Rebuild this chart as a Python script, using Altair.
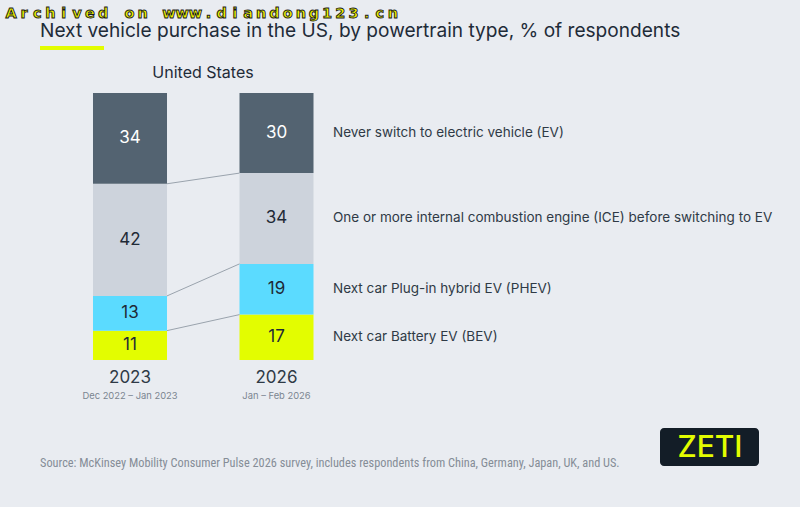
import altair as alt
import pandas as pd

# --- data -------------------------------------------------------------
years = ["2023", "2026"]
periods = ["Dec 2022 – Jan 2023", "Jan – Feb 2026"]
segments = [
    "Next car Battery EV (BEV)",
    "Next car Plug-in hybrid EV (PHEV)",
    "One or more internal combustion engine (ICE) before switching to EV",
    "Never switch to electric vehicle (EV)",
]
share_2023 = [11, 13, 42, 34]
share_2026 = [17, 19, 34, 30]
seg_colors = ["#e3fd00", "#5bdbff", "#cdd3dc", "#536371"]

title_text = "Next vehicle purchase in the US, by powertrain type, % of respondents"
subtitle_text = "United States"
source_text = ("Source: McKinsey Mobility Consumer Pulse 2026 survey, includes respondents "
               "from China, Germany, Japan, UK, and US.")
watermark = "Archived on www.diandong123.cn"

BG = "#e9ecf1"
FONT = "Inter"
HALF = 0.2526  # half bar width in x units

rows = []
for i, (yr, vals) in enumerate(zip(years, [share_2023, share_2026])):
    for j, (seg, v) in enumerate(zip(segments, vals)):
        rows.append({"year": yr, "pos": i, "segment": seg, "order": j, "pct": v})
df = pd.DataFrame(rows)

# boundaries between stacked segments, joined across the two bars
bounds = []
c23, c26 = 0, 0
for j in range(len(segments) - 1):
    c23 += share_2023[j]
    c26 += share_2026[j]
    bounds.append({"a": c23, "b": c26})
df_bounds = pd.DataFrame(bounds)

xs = alt.Scale(domain=[0, 1], range=[130, 276.5])
ys = alt.Scale(domain=[0, 100], range=[360, 93])
cs = alt.Scale(domain=segments, range=seg_colors)

base = alt.Chart(df).transform_stack(
    stack="pct", groupby=["year"], as_=["y0", "y1"], sort=[alt.SortField("order")]
).transform_calculate(
    xl=f"datum.pos - {HALF}", xr=f"datum.pos + {HALF}", ym="(datum.y0 + datum.y1) / 2"
)

bars = base.mark_bar(stroke=None).encode(
    x=alt.X("xl:Q", scale=xs, axis=None),
    x2="xr:Q",
    y=alt.Y("y0:Q", scale=ys, axis=None),
    y2="y1:Q",
    color=alt.Color("segment:N", scale=cs, legend=None),
)

values = base.mark_text(font=FONT, fontSize=17, baseline="middle").encode(
    x=alt.X("pos:Q", scale=xs, axis=None),
    y=alt.Y("ym:Q", scale=ys, axis=None),
    text="pct:Q",
    color=alt.condition(
        alt.datum.order == 3, alt.value("#ffffff"), alt.value("#1f2a36")
    ),
)

seg_labels = base.transform_filter(alt.datum.pos == 1).mark_text(
    font=FONT, fontSize=13.5, align="left", baseline="middle", color="#2f3a46"
).encode(
    x=alt.value(333),
    y=alt.Y("ym:Q", scale=ys, axis=None),
    text="segment:N",
)

connectors = alt.Chart(df_bounds).transform_calculate(
    x1=f"{HALF}", x2=f"1 - {HALF}"
).mark_rule(color="#9aa3ad", strokeWidth=1).encode(
    x=alt.X("x1:Q", scale=xs, axis=None),
    x2="x2:Q",
    y=alt.Y("a:Q", scale=ys, axis=None),
    y2="b:Q",
)

df_years = pd.DataFrame({"year": years, "period": periods, "pos": [0, 1]})
year_labels = alt.Chart(df_years).mark_text(
    font=FONT, fontSize=17, color="#2f3a46", baseline="middle"
).encode(x=alt.X("pos:Q", scale=xs, axis=None), y=alt.value(378), text="year:N")
period_labels = alt.Chart(df_years).mark_text(
    font=FONT, fontSize=9.4, color="#7b8590", baseline="middle"
).encode(x=alt.X("pos:Q", scale=xs, axis=None), y=alt.value(396), text="period:N")

one = alt.Chart(pd.DataFrame({"k": [0]}))

title = one.mark_text(
    font=FONT, fontSize=19.1, color="#1e2b38", align="left", baseline="middle"
).encode(x=alt.value(40), y=alt.value(31), text=alt.value(title_text))
underline = one.mark_rule(color="#e3fd00", strokeWidth=4).encode(
    x=alt.value(40), x2=alt.value(104), y=alt.value(48)
)
subtitle = one.mark_text(
    font=FONT, fontSize=16, color="#1e2b38", baseline="middle"
).encode(x=alt.value(203), y=alt.value(73), text=alt.value(subtitle_text))
source = one.mark_text(
    font="Roboto Condensed, Roboto", fontSize=12.3,
    color="#858d97", align="left", baseline="middle"
).encode(x=alt.value(40), y=alt.value(463), text=alt.value(source_text))

logo_box = one.mark_rect(color="#131d27", cornerRadius=4).encode(
    x=alt.value(660), x2=alt.value(759), y=alt.value(428), y2=alt.value(466)
)
logo_text = one.mark_text(
    font=FONT, fontSize=30, fontWeight=500, color="#e3fd00", baseline="middle"
).encode(x=alt.value(710), y=alt.value(448), text=alt.value("ZETI"))

# letter-spaced watermark: one glyph per evenly spaced slot
df_wm = pd.DataFrame({"ch": list(watermark), "idx": range(len(watermark))})
mark_wm = alt.Chart(df_wm).mark_text(
    font="DejaVu Sans", fontSize=14.5, fontWeight="bold", color="#eef200",
    stroke="#1a1a1a", strokeWidth=0.9, align="center", baseline="alphabetic"
).encode(
    x=alt.X("idx:Q", axis=None,
            scale=alt.Scale(domain=[0, len(watermark) - 1], range=[11, 393])),
    y=alt.value(18),
    text="ch:N",
)

chart = alt.layer(
    bars, connectors, values, seg_labels, year_labels, period_labels,
    title, underline, subtitle, source, logo_box, logo_text, mark_wm,
).resolve_scale(
    x="independent"
).properties(
    width=800, height=507, background=BG, padding=0, autosize="none"
).configure_view(stroke=None)

chart.save("out.html", embed_options={"renderer": "svg", "actions": False})
